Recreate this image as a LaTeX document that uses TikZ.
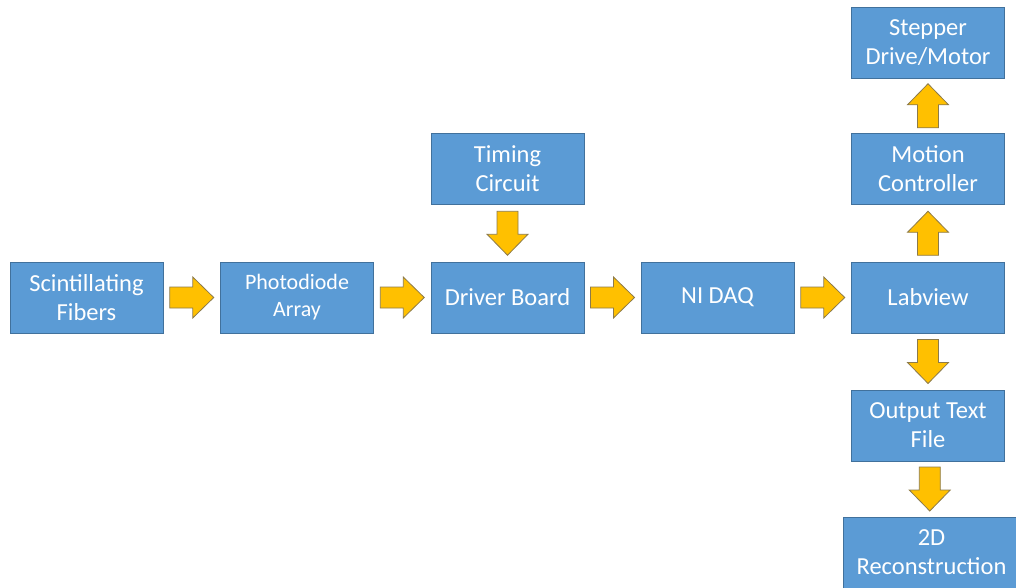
\documentclass[tikz,border=0pt]{standalone}
\usepackage{fontspec}
\setmainfont{Carlito}
\usetikzlibrary{calc}
\definecolor{boxblue}{HTML}{5B9BD5}
\definecolor{boxedge}{HTML}{41719C}
\definecolor{arrowgold}{HTML}{FFC000}
\definecolor{arrowedge}{HTML}{8C7A4A}
\tikzset{
  block/.style={draw=boxedge, line width=1pt, fill=boxblue, text=white,
    minimum width=153pt, minimum height=71pt, inner sep=2pt, align=center,
    font=\fontsize{24.5}{29}\selectfont},
  flow/.pic={
    \draw [draw=arrowedge, line width=0.8pt, fill=arrowgold, line join=miter]
      (-22,-10.5) -- (1,-10.5) -- (1,-20.5) -- (22,0) -- (1,20.5) -- (1,10.5) -- (-22,10.5) -- cycle;
  },
}
\begin{document}
\begin{tikzpicture}[x=1pt, y=-1pt]
  \useasboundingbox (0,0) rectangle (1016,587);
  \begin{scope}
  \clip (0,0) rectangle (1016,587);
  % main chain
  \node [block] (fibers)   at (86.5,297.5) {Scintillating\\Fibers};
  \node [block, font=\fontsize{22}{27}\selectfont] (diodes) at (297,297.5) {Photodiode\\Array};
  \node [block] (driver)   at (507.5,297.5) {Driver Board};
  \node [block] (daq)      at (717.5,297.5) {NI DAQ};
  \node [block] (labview)  at (928,297.5) {Labview};
  % side branches
  \node [block] (timing)   at (507.5,169) {Timing\\Circuit};
  \node [block] (motion)   at (928,169) {Motion\\Controller};
  \node [block] (stepper)  at (928,42.5) {Stepper\\Drive/Motor};
  \node [block] (textfile) at (928,425.5) {Output Text\\File};
  \node [block, minimum width=177pt] (recon) at (931.5,552.5) {2D\\Reconstruction};
  \end{scope}
  % block arrows
  \pic (a1) at ($(fibers.east)!0.5!(diodes.west)$) {flow};
  \pic (a2) at ($(diodes.east)!0.5!(driver.west)$) {flow};
  \pic (a3) at ($(driver.east)!0.5!(daq.west)$) {flow};
  \pic (a4) at ($(daq.east)!0.5!(labview.west)$) {flow};
  \pic [rotate=-90] (a5) at ($(timing.south)!0.5!(driver.north)$) {flow};
  \pic [rotate=90] (a6) at ($(labview.north)!0.5!(motion.south)$) {flow};
  \pic [rotate=90] (a7) at ($(motion.north)!0.5!(stepper.south)$) {flow};
  \pic [rotate=-90] (a8) at ($(labview.south)!0.5!(textfile.north)$) {flow};
  \pic [rotate=-90] (a9) at ($(textfile.south)!0.5!(recon.north)$) {flow};
\end{tikzpicture}
\end{document}
